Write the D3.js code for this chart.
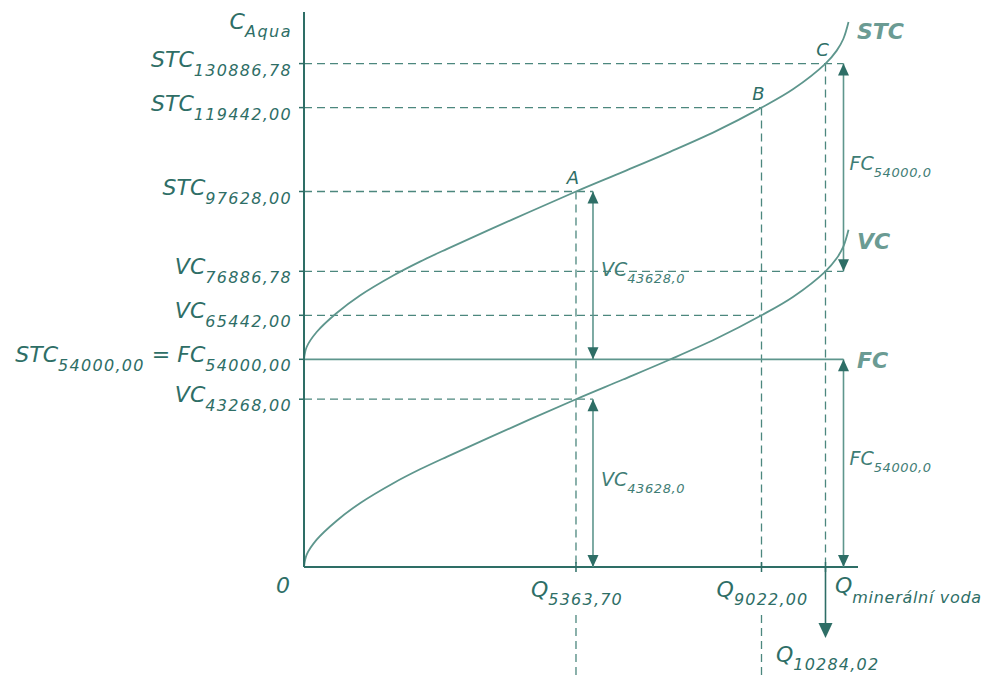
<!DOCTYPE html>
<html>
<head>
<meta charset="utf-8">
<script src="https://cdn.jsdelivr.net/npm/d3@7"></script>
<style>
  body { margin: 0; background: #fff; }
  text { font-family: "DejaVu Sans", Verdana, sans-serif; font-style: italic; }
</style>
</head>
<body>
<script>
// points A, B, C on the curves
var pointNames = ["A", "B", "C"];
var pointQ = [5363.70, 9022.00, 10284.02];
var pointVC = [43628, 65442, 76886.78];
var pointSTC = [97628, 119442, 130886.78];
var qLabels = ["5363,70", "9022,00", "10284,02"];
var stcLabels = ["97628,00", "119442,00", "130886,78"];
var vcLabels = ["43268,00", "65442,00", "76886,78"];
var fcValue = 54000;
var fcLabel = "54000,00";
var vcArrowLabel = "43628,0";
var fcArrowLabel = "54000,0";

// variable cost curve [Q, VC]
var vcCurve = [
    [0, 0], [53, 3200], [250, 7100], [645, 12040], [1104, 16590],
    [1761, 21790], [2288, 25400], [2814, 28650], [4127, 36450], [5363.7, 43628],
    [6291, 48750], [7218, 53950], [8125, 59330], [9022, 65442],
    [9649, 70280], [10284.02, 76886.78], [10505, 80260], [10635, 83280],
    [10738, 87700]
];

var W = 988, H = 675;
var dark = "#2e6e66", curveCol = "#5e968d", dashCol = "#4c877e", lightCol = "#6b9b93";

var x = d3.scaleLinear().domain([0, 10925]).range([304, 858]);
var y = d3.scaleLinear().domain([0, 144300]).range([567, 12]);
var x0 = x(0), y0 = y(0);

var svg = d3.select("body").append("svg")
    .attr("width", W)
    .attr("height", H);

function dashed(x1, y1, x2, y2) {
    svg.append("line")
        .attr("x1", x1).attr("y1", y1).attr("x2", x2).attr("y2", y2)
        .attr("stroke", dashCol)
        .attr("stroke-width", 1.3)
        .attr("stroke-dasharray", "8,5");
}

function head(xt, yt, dir, len, half) {
    // dir: -1 points up, 1 points down
    var p = [[xt, yt], [xt - half, yt - dir * len], [xt + half, yt - dir * len]];
    svg.append("path")
        .attr("d", "M" + p.join("L") + "Z")
        .attr("fill", dark);
}

function arrow(ax, ya, yb) {
    svg.append("line")
        .attr("x1", ax).attr("y1", ya).attr("x2", ax).attr("y2", yb)
        .attr("stroke", curveCol).attr("stroke-width", 1.6);
    head(ax, ya, -1, 12, 5.5);
    head(ax, yb, 1, 12, 5.5);
}

function label(tx, ty, main, sub, o) {
    var t = svg.append("text")
        .attr("x", tx).attr("y", ty)
        .attr("text-anchor", o.anchor || "start")
        .attr("fill", o.color || dark);
    t.append("tspan").attr("font-size", o.size).text(main);
    t.append("tspan").attr("font-size", o.subSize).attr("dy", o.dy)
        .attr("letter-spacing", o.ls || 1).text(sub);
    return t;
}

var arrowVCx = x(pointQ[0]) + 17;
var arrowFCx = x(pointQ[2]) + 18;

// horizontal guides
pointSTC.forEach(function(v, i) {
    var ex = i === 0 ? arrowVCx : (i === 1 ? x(pointQ[1]) : arrowFCx);
    dashed(x0, y(v), ex, y(v));
});
pointVC.forEach(function(v, i) {
    var ex = i === 0 ? arrowVCx : (i === 1 ? x(pointQ[1]) : arrowFCx);
    dashed(x0, y(v), ex, y(v));
});

// vertical guides
pointQ.forEach(function(q, i) {
    dashed(x(q), y(pointSTC[i]), x(q), y0);
    if (i < 2) dashed(x(q), y0 + 48, x(q), H);
});

// fixed cost line
svg.append("line")
    .attr("x1", x0).attr("y1", y(fcValue)).attr("x2", arrowFCx).attr("y2", y(fcValue))
    .attr("stroke", curveCol).attr("stroke-width", 1.8);

// curves
var line = d3.line()
    .x(function(d) { return x(d[0]); })
    .y(function(d) { return y(d[1]); })
    .curve(d3.curveCatmullRom.alpha(0.5));

svg.append("path")
    .attr("d", line(vcCurve))
    .attr("fill", "none").attr("stroke", curveCol).attr("stroke-width", 1.8);
svg.append("path")
    .attr("d", line(vcCurve.map(function(d) { return [d[0], d[1] + fcValue]; })))
    .attr("fill", "none").attr("stroke", curveCol).attr("stroke-width", 1.8);

// axes
svg.append("line").attr("x1", x0).attr("y1", 12).attr("x2", x0).attr("y2", y0)
    .attr("stroke", dark).attr("stroke-width", 2);
svg.append("line").attr("x1", x0).attr("y1", y0).attr("x2", x.range()[1]).attr("y2", y0)
    .attr("stroke", dark).attr("stroke-width", 2);

pointSTC.concat(pointVC).concat([fcValue]).forEach(function(v) {
    svg.append("line").attr("x1", x0 - 5).attr("x2", x0).attr("y1", y(v)).attr("y2", y(v))
        .attr("stroke", dark).attr("stroke-width", 1.5);
});
pointQ.forEach(function(q) {
    svg.append("line").attr("x1", x(q)).attr("x2", x(q)).attr("y1", y0 - 5).attr("y2", y0 + 5)
        .attr("stroke", dark).attr("stroke-width", 1.5);
});

// arrows
arrow(arrowVCx, y(pointSTC[0]), y(fcValue));
arrow(arrowVCx, y(pointVC[0]), y0);
arrow(arrowFCx, y(pointSTC[2]), y(pointVC[2]));
arrow(arrowFCx, y(fcValue), y0);

svg.append("line")
    .attr("x1", x(pointQ[2])).attr("y1", y0).attr("x2", x(pointQ[2])).attr("y2", y0 + 60)
    .attr("stroke", dark).attr("stroke-width", 1.6);
head(x(pointQ[2]), y0 + 71, 1, 15, 7);

// y axis labels
var lab = { anchor: "end", size: 22, subSize: 16, dy: 9, ls: 1.3 };
label(292, 29, "C", "Aqua", { anchor: "end", size: 22, subSize: 16, dy: 8, ls: 1.5 });
pointSTC.forEach(function(v, i) { label(292, y(v) + 3, "STC", stcLabels[i], lab); });
pointVC.forEach(function(v, i) { label(292, y(v) + 3, "VC", vcLabels[i], lab); });

var fcT = svg.append("text")
    .attr("x", 292).attr("y", y(fcValue) + 3)
    .attr("text-anchor", "end").attr("fill", dark);
fcT.append("tspan").attr("font-size", 22).text("STC");
fcT.append("tspan").attr("font-size", 16).attr("dy", 9).attr("letter-spacing", 1.3).text(fcLabel);
fcT.append("tspan").attr("font-size", 22).attr("dy", -9).text(" = FC");
fcT.append("tspan").attr("font-size", 16).attr("dy", 9).attr("letter-spacing", 1.3).text(fcLabel);

// x axis labels
svg.append("text").attr("x", 290).attr("y", 593).attr("text-anchor", "end")
    .attr("font-size", 22).attr("fill", dark).text("0");
[0, 1].forEach(function(i) {
    label(x(pointQ[i]) + 1, 597, "Q", qLabels[i], { anchor: "middle", size: 22, subSize: 16, dy: 8, ls: 1.2 });
});
label(835, 593, "Q", "minerální voda", { size: 22, subSize: 16, dy: 10, ls: 0.7 });
label(776, 662, "Q", qLabels[2], { size: 22, subSize: 16, dy: 8, ls: 1.2 });

// point labels
pointNames.forEach(function(n, i) {
    svg.append("text")
        .attr("x", x(pointQ[i]) - 3).attr("y", y(pointSTC[i]) - 8)
        .attr("text-anchor", "middle")
        .attr("font-size", 18).attr("fill", dark).text(n);
});

// curve names
var last = vcCurve[vcCurve.length - 1];
[["STC", y(last[1] + fcValue) + 17], ["VC", y(last[1]) + 19], ["FC", y(fcValue) + 9]].forEach(function(d) {
    svg.append("text")
        .attr("x", 857).attr("y", d[1])
        .attr("font-size", 22).attr("font-weight", "bold")
        .attr("fill", lightCol).text(d[0]);
});

// arrow labels
var al = { size: 19, subSize: 13, dy: 7, ls: 0.6, color: "#3f7d75" };
label(arrowVCx + 8, (y(pointSTC[0]) + y(fcValue)) / 2 + 1, "VC", vcArrowLabel, al);
label(arrowVCx + 8, (y(pointVC[0]) + y0) / 2 + 3, "VC", vcArrowLabel, al);
label(arrowFCx + 6, (y(pointSTC[2]) + y(pointVC[2])) / 2 + 3, "FC", fcArrowLabel, al);
label(arrowFCx + 6, (y(fcValue) + y0) / 2 + 2, "FC", fcArrowLabel, al);
</script>
</body>
</html>
